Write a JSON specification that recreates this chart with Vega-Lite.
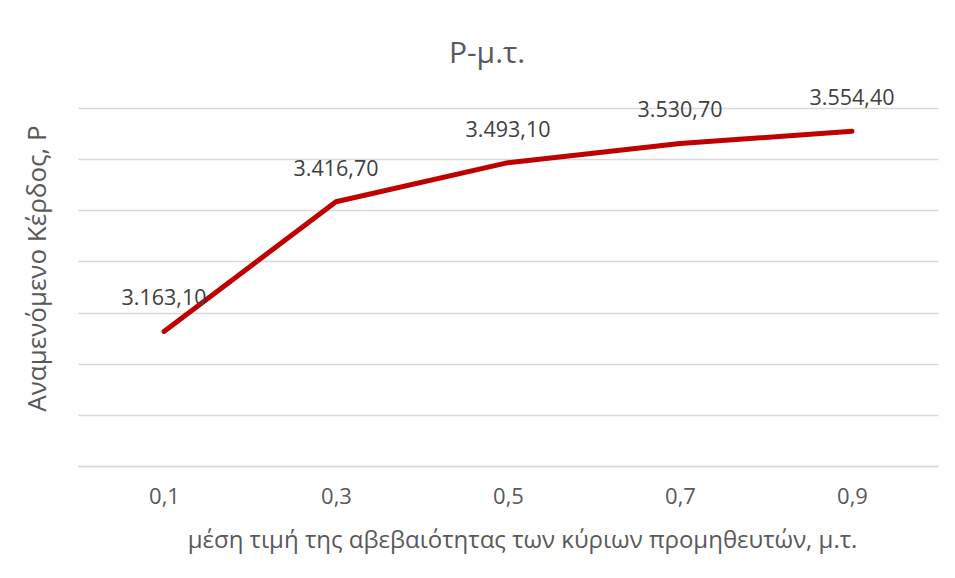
{
  "$schema": "https://vega.github.io/schema/vega-lite/v6.json",
  "width": 860,
  "height": 358,
  "autosize": {"type": "none"},
  "padding": {"left": 78, "top": 108, "right": 17, "bottom": 112},
  "background": "white",
  "config": {
    "locale": {"number": {"decimal": ",", "thousands": ".", "grouping": [3], "currency": ["€", ""]}},
    "view": {"stroke": null},
    "font": "Open Sans"
  },
  "title": {
    "text": "Ρ-μ.τ.",
    "anchor": "middle",
    "fontSize": 30,
    "fontWeight": "normal",
    "font": "Open Sans",
    "color": "#595959",
    "offset": 19,
    "dx": -21
  },
  "data": {
    "values": [
      {"m": 0.1, "P": 3163.1},
      {"m": 0.3, "P": 3416.7},
      {"m": 0.5, "P": 3493.1},
      {"m": 0.7, "P": 3530.7},
      {"m": 0.9, "P": 3554.4}
    ]
  },
  "encoding": {
    "x": {
      "field": "m",
      "type": "ordinal",
      "scale": {"type": "point", "padding": 0.5},
      "axis": {
        "title": "μέση τιμή της αβεβαιότητας των κύριων προμηθευτών, μ.τ.",
        "format": ".1f",
        "formatType": "number",
        "labelAngle": 0,
        "ticks": false,
        "domain": true,
        "domainColor": "#d9d9d9",
        "domainWidth": 1.5,
        "labelFontSize": 22,
        "labelColor": "#595959",
        "labelPadding": 20,
        "titleFontSize": 24,
        "titleFontWeight": "normal",
        "titleColor": "#595959",
        "titleX": 444,
        "titleY": 74,
        "titleBaseline": "middle",
        "titleAlign": "center"
      }
    },
    "y": {
      "field": "P",
      "type": "quantitative",
      "scale": {"domain": [2900, 3600], "nice": false, "zero": false},
      "axis": {
        "title": "Αναμενόμενο Κέρδος, Ρ",
        "values": [2900, 3000, 3100, 3200, 3300, 3400, 3500, 3600],
        "labels": false,
        "ticks": false,
        "domain": false,
        "grid": true,
        "gridColor": "#d9d9d9",
        "gridWidth": 1.5,
        "titleFontSize": 26,
        "titleFontWeight": "normal",
        "titleColor": "#595959",
        "titleAngle": -90,
        "titleX": -41,
        "titleY": 160,
        "titleBaseline": "middle",
        "titleAlign": "center"
      }
    }
  },
  "layer": [
    {
      "mark": {"type": "line", "color": "#C00000", "strokeWidth": 5, "strokeCap": "round", "strokeJoin": "round"}
    },
    {
      "mark": {"type": "text", "fontSize": 21.5, "color": "#404040", "baseline": "middle", "dy": -32, "font": "Open Sans"},
      "encoding": {"text": {"field": "P", "type": "quantitative", "format": ",.2f"}}
    }
  ]
}
